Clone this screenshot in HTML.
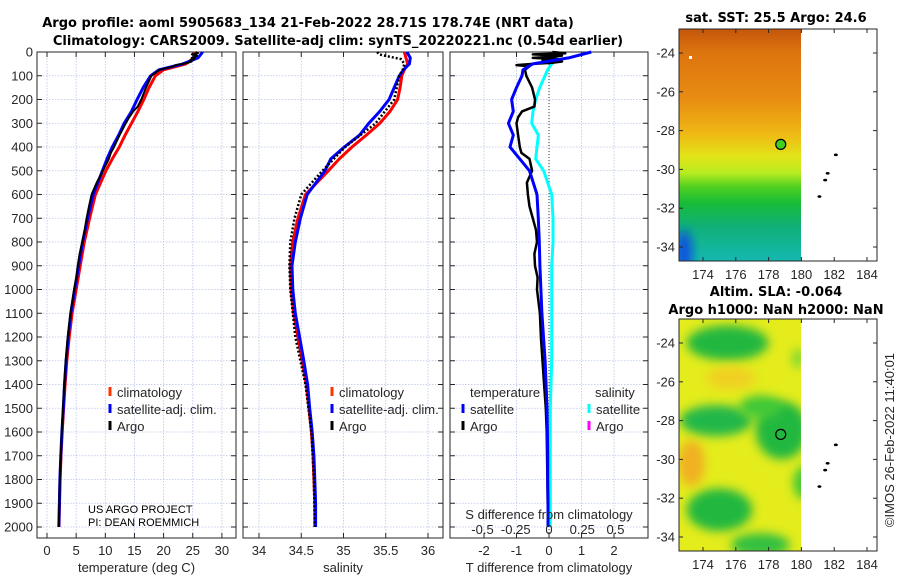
<!DOCTYPE html>
<html><head><meta charset="utf-8"><style>
body{margin:0;background:#fff;}
svg{display:block;font-family:"Liberation Sans","DejaVu Sans",sans-serif;}
.tk{font-size:13px;fill:#262626;}
.ttl{font-family:"DejaVu Sans","Liberation Sans",sans-serif;font-size:13px;font-weight:bold;fill:#000;}
</style></head><body>
<svg id="chart" width="900" height="580" viewBox="0 0 900 580" xmlns="http://www.w3.org/2000/svg">
<defs>
<linearGradient id="sstg" x1="0" y1="0" x2="0" y2="1">
<stop offset="0" stop-color="#c4560c"/><stop offset="0.1" stop-color="#dc740e"/>
<stop offset="0.3" stop-color="#e88c12"/><stop offset="0.45" stop-color="#efb814"/>
<stop offset="0.55" stop-color="#e2e418"/><stop offset="0.62" stop-color="#b8ec20"/>
<stop offset="0.68" stop-color="#50d020"/><stop offset="0.75" stop-color="#18bc38"/>
<stop offset="0.85" stop-color="#10b078"/><stop offset="1" stop-color="#14b8b0"/>
</linearGradient>
<filter id="blur" x="-50%" y="-50%" width="200%" height="200%"><feGaussianBlur stdDeviation="5"/></filter>
<clipPath id="c1"><rect x="679" y="29" width="122" height="232"/></clipPath>
<clipPath id="c2"><rect x="679" y="319" width="122" height="232"/></clipPath>
</defs>
<g id="titles">
<text class="ttl" x="308" y="27" text-anchor="middle">Argo profile: aoml 5905683_134 21-Feb-2022 28.71S 178.74E (NRT data)</text>
<text class="ttl" x="338" y="45" text-anchor="middle">Climatology: CARS2009. Satellite-adj clim: synTS_20220221.nc (0.54d earlier)</text>
</g>
<g id="plots"></g>
<g id="maps"></g>
</svg>
<script>
// ---- data ----
const depths = [0,25,50,75,100,150,200,250,300,350,400,450,500,600,700,800,900,1000,1100,1200,1300,1400,1500,1600,1700,1800,1900,2000];
const tempClim = [25.4,25.3,23.8,20.0,18.6,17.5,16.6,15.6,14.5,13.4,12.4,11.2,10.1,8.3,7.3,6.4,5.7,5.0,4.3,3.8,3.4,3.1,2.85,2.6,2.4,2.25,2.15,2.05];
const satDiffT = [1.3,0.6,-0.5,-0.8,-0.83,-1.0,-1.15,-1.1,-1.25,-1.1,-1.2,-0.9,-0.6,-0.37,-0.33,-0.3,-0.28,-0.25,-0.22,-0.17,-0.12,-0.09,-0.06,-0.05,-0.04,-0.04,-0.03,-0.03];
const argoDepths = [0,5,10,15,20,25,30,35,40,45,50,55,60,75,100,150,200,230,250,275,300,350,400,425,450,500,550,600,650,700,750,800,850,900,950,1000,1100,1200,1300,1400,1500,1600,1800,2000];
const argoDiffT = [0.1,0.5,-0.5,0.4,0.1,-0.5,0.3,-0.2,0.4,0.1,-0.5,-1.0,-0.6,-0.74,-0.7,-0.52,-0.43,-0.45,-0.83,-0.95,-1.0,-0.95,-0.9,-0.85,-0.6,-0.52,-0.68,-0.65,-0.6,-0.5,-0.4,-0.37,-0.45,-0.43,-0.35,-0.37,-0.28,-0.25,-0.2,-0.15,-0.1,-0.07,-0.05,-0.03];
const salClim = [35.72,35.74,35.76,35.72,35.69,35.67,35.64,35.55,35.43,35.27,35.1,34.95,34.82,34.55,34.46,34.4,34.37,34.38,34.41,34.46,34.51,34.56,34.59,34.62,34.64,34.65,34.66,34.66];
const satDiffS = [0.03,0.05,0.02,-0.01,-0.03,-0.07,-0.1,-0.12,-0.13,-0.08,-0.09,-0.1,-0.04,0.02,0.03,0.03,0.02,0.02,0.02,0.02,0.02,0.015,0.01,0.01,0.01,0.01,0.01,0.01];
const argoSalDepths = [0,10,20,30,40,50,75,100,200,300,400,500,600,700,800,900,1000,1200,1400,1600,1800,2000];
const argoSal = [35.4,35.42,35.55,35.68,35.7,35.72,35.7,35.66,35.6,35.38,35.02,34.75,34.5,34.42,34.37,34.36,34.37,34.43,34.55,34.62,34.65,34.66];
const depthTicks = [0,100,200,300,400,500,600,700,800,900,1000,1100,1200,1300,1400,1500,1600,1700,1800,1900,2000];
const tempTicks = [0,5,10,15,20,25,30];
const salTicks = [34,34.5,35,35.5,36];
const salTickLabels = ["34","34.5","35","35.5","36"];
const dTTicks = [-2,-1,0,1,2];
const dSTicks = [-0.5,-0.25,0,0.25,0.5];
const lonTicks = [174,176,178,180,182,184];
const latTicks = [-24,-26,-28,-30,-32,-34];
const argoLon = 178.74, argoLat = -28.71;
const islands = [[182.1,-29.25],[181.6,-30.2],[181.45,-30.55],[181.1,-31.4]];

// ---- scales ----
const NS="http://www.w3.org/2000/svg";
const yD = d => 52 + d*0.2375;
const xT = v => 47 + 5.83*v;
const xS = v => 259 + 84.5*(v-34);
const xdT = v => 549 + 32.5*v;
const xdS = v => 549 + 133*v;
const xLon = l => 703 + 16.4*(l-174);
const yLat1 = l => 53 + 19.4*(-24-l);
const yLat2 = l => 343 + 19.4*(-24-l);
const interp = (d) => { for(let i=1;i<depths.length;i++){ if(d<=depths[i]){const t=(d-depths[i-1])/(depths[i]-depths[i-1]); return [i-1,t];}} return [depths.length-2,1]; };
const at = (arr,d) => { const [i,t]=interp(d); return arr[i]+(arr[i+1]-arr[i])*t; };

const plots=document.getElementById('plots');
const maps=document.getElementById('maps');
function mk(tag,attrs,parent,txt){const e=document.createElementNS(NS,tag);for(const k in attrs)e.setAttribute(k,attrs[k]);if(txt!==undefined)e.textContent=txt;(parent||plots).appendChild(e);return e;}
function line(xs,ys,color,w,name,dash){const pts=xs.map((x,i)=>x.toFixed(1)+','+ys[i].toFixed(1)).join(' ');const p=mk('polyline',{points:pts,fill:'none',stroke:color,'stroke-width':w,'stroke-linejoin':'round'});if(dash)p.setAttribute('stroke-dasharray',dash);


return p;}

function panel(x0,x1,name,xticks,xfn,labels,xtitle){
  const g=mk('g',{});
  
  
  depthTicks.forEach(d=>{mk('line',{x1:x0,x2:x1,y1:yD(d),y2:yD(d),stroke:'#b8c4e8','stroke-width':0.8,'stroke-dasharray':'1.5,1.5'},g);});
  xticks.forEach(v=>{mk('line',{x1:xfn(v),x2:xfn(v),y1:52,y2:538,stroke:'#b8c4e8','stroke-width':0.8,'stroke-dasharray':'1.5,1.5'},g);});
  mk('rect',{x:x0,y:52,width:x1-x0,height:486,fill:'none',stroke:'#262626','stroke-width':1},g);
  depthTicks.forEach(d=>{mk('line',{x1:x0,x2:x0+5,y1:yD(d),y2:yD(d),stroke:'#262626'},g);mk('line',{x1:x1-5,x2:x1,y1:yD(d),y2:yD(d),stroke:'#262626'},g);});
  xticks.forEach((v,i)=>{mk('line',{x1:xfn(v),x2:xfn(v),y1:533,y2:538,stroke:'#262626'},g);mk('line',{x1:xfn(v),x2:xfn(v),y1:52,y2:57,stroke:'#262626'},g);
    const t=mk('text',{x:xfn(v),y:555,'text-anchor':'middle',class:'tk'},g,labels[i]);
    
    });
  const tt=mk('text',{x:(x0+x1)/2,y:572,'text-anchor':'middle',class:'tk'},g,xtitle);
  
  
  return g;
}
function legendItem(x,y,color,label,name){
  const g=mk('g',{});
  
  
  mk('line',{x1:x,x2:x,y1:y-10,y2:y-1,stroke:color,'stroke-width':3},g);
  mk('text',{x:x+7,y:y,class:'tk'},g,label);
}

// panel 1: temperature
panel(37,236,'temperature-panel',tempTicks,xT,tempTicks.map(String),'temperature (deg C)');
depthTicks.forEach(d=>{const t=mk('text',{x:33,y:yD(d)+4.5,'text-anchor':'end',class:'tk'},plots,String(d));

});
line(depths.map(d=>xT(at(tempClim,d))),depths.map(yD),'#ff0000',3,'temp-climatology-line');
line(depths.map((d,i)=>xT(tempClim[i]+satDiffT[i])),depths.map(yD),'#0000ff',3,'temp-satellite-line');
line(argoDepths.map((d,i)=>xT(at(tempClim,d)+argoDiffT[i])),argoDepths.map(yD),'#000000',2,'temp-argo-line');
legendItem(110,397,'#ff3300','climatology','legend-climatology');
legendItem(110,414,'#0000ff','satellite-adj. clim.','legend-satellite');
legendItem(110,431,'#000000','Argo','legend-argo');
mk('text',{x:88,y:513,style:'font-size:11px',fill:'#000'},plots,'US ARGO PROJECT');
mk('text',{x:88,y:526,style:'font-size:11px',fill:'#000'},plots,'PI: DEAN ROEMMICH');

// panel 2: salinity
panel(243,443,'salinity-panel',salTicks,xS,salTickLabels,'salinity');
line(depths.map((d,i)=>xS(salClim[i])),depths.map(yD),'#ff0000',3,'sal-climatology-line');
line(depths.map((d,i)=>xS(salClim[i]+satDiffS[i])),depths.map(yD),'#0000ff',3,'sal-satellite-line');
line(argoSalDepths.map((d,i)=>xS(argoSal[i])),argoSalDepths.map(yD),'#000000',2.5,'sal-argo-line','2,2');
legendItem(332,397,'#ff3300','climatology','legend-climatology-2');
legendItem(332,414,'#0000ff','satellite-adj. clim.','legend-satellite-2');
legendItem(332,431,'#000000','Argo','legend-argo-2');

// panel 3: differences
panel(450,648,'difference-panel',dTTicks,xdT,dTTicks.map(String),'T difference from climatology');
mk('line',{x1:549,x2:549,y1:52,y2:538,stroke:'#333','stroke-width':1,'stroke-dasharray':'1,2'});
line(depths.map((d,i)=>xdS(satDiffS[i])),depths.map(yD),'#00ffff',3,'sal-diff-satellite-line');
line(argoDepths.map((d,i)=>xdT(argoDiffT[i])),argoDepths.map(yD),'#000000',2.5,'temp-diff-argo-line');
line(depths.map((d,i)=>xdT(satDiffT[i])),depths.map(yD),'#0000ff',3,'temp-diff-satellite-line');
mk('text',{x:470,y:397,class:'tk'},plots,'temperature');
mk('text',{x:595,y:397,class:'tk'},plots,'salinity');
legendItem(463,414,'#0000ff','satellite','legend-t-satellite');
legendItem(463,431,'#000000','Argo','legend-t-argo');
legendItem(589,414,'#00ffff','satellite','legend-s-satellite');
legendItem(589,431,'#ff00ff','Argo','legend-s-argo');
mk('text',{x:549,y:519,'text-anchor':'middle',class:'tk'},plots,'S difference from climatology');
dSTicks.forEach(v=>{const t=mk('text',{x:xdS(v),y:534,'text-anchor':'middle',class:'tk'},plots,String(v));

});

// ---- maps ----
function mapFrame(top,ylat,name){
  const g=mk('g',{},maps);
  
  
  mk('rect',{x:679,y:top,width:198,height:232,fill:'none',stroke:'#262626'},g);
  latTicks.forEach(l=>{const y=ylat(l);mk('line',{x1:679,x2:683,y1:y,y2:y,stroke:'#262626'},g);mk('line',{x1:873,x2:877,y1:y,y2:y,stroke:'#262626'},g);
    mk('text',{x:675,y:y+4.5,'text-anchor':'end',class:'tk'},g,String(l));});
  lonTicks.forEach(l=>{const x=xLon(l);mk('line',{x1:x,x2:x,y1:top+228,y2:top+232,stroke:'#262626'},g);mk('line',{x1:x,x2:x,y1:top,y2:top+4,stroke:'#262626'},g);
    mk('text',{x:x,y:top+250,'text-anchor':'middle',class:'tk'},g,String(l));});
  islands.forEach(p=>{mk('ellipse',{cx:xLon(p[0]),cy:ylat(p[1]),rx:2,ry:1.3,fill:'#000'},g);});
  return g;
}
// SST map
const s1=mk('g',{'clip-path':'url(#c1)'},maps);


mk('rect',{x:679,y:29,width:122,height:232,fill:'url(#sstg)'},s1);
mk('ellipse',{cx:684,cy:252,rx:8,ry:22,fill:'#1050e0',filter:'url(#blur)'},s1);
mk('rect',{x:689,y:56,width:3,height:3,fill:'#fff'},s1);
mapFrame(29,yLat1,'sst-map');
const c1=mk('circle',{cx:xLon(argoLon),cy:yLat1(argoLat),r:5,fill:'#40d020',stroke:'#000','stroke-width':1.2},maps);


mk('text',{x:776,y:22,'text-anchor':'middle',class:'ttl'},maps,'sat. SST: 25.5 Argo: 24.6');
// SLA map
const s2=mk('g',{'clip-path':'url(#c2)'},maps);


mk('rect',{x:679,y:319,width:122,height:232,fill:'#e4ec1c'},s2);
[[175.5,-24,2.5,0.9,'#20b840'],[178.8,-28.5,1.6,1.5,'#20b840'],[174.8,-28,2.2,0.8,'#22b848'],[175,-32.6,2,1.1,'#20b840'],[177.5,-34.4,1.8,0.6,'#30c040'],[180.3,-31.2,0.8,0.9,'#40c838'],[179.8,-24.8,0.4,0.5,'#80d830'],[173.3,-30.2,0.8,1.2,'#f0b020'],[175.7,-25.8,1.5,0.6,'#f0d020'],[177.5,-27.3,1.3,0.6,'#40c838']].forEach(b=>{
  mk('ellipse',{cx:xLon(b[0]),cy:yLat2(b[1]),rx:b[2]*16.4,ry:b[3]*19.4,fill:b[4],filter:'url(#blur)'},s2);});
mapFrame(319,yLat2,'sla-map');
const c2=mk('circle',{cx:xLon(argoLon),cy:yLat2(argoLat),r:5,fill:'none',stroke:'#000','stroke-width':1.2},maps);


mk('text',{x:776,y:296,'text-anchor':'middle',class:'ttl'},maps,'Altim. SLA: -0.064');
mk('text',{x:776,y:314,'text-anchor':'middle',class:'ttl'},maps,'Argo h1000: NaN h2000: NaN');
mk('text',{x:894,y:440,'text-anchor':'middle',class:'tk',transform:'rotate(-90 894 440)'},maps,'©IMOS 26-Feb-2022 11:40:01');
</script>
</body></html>
